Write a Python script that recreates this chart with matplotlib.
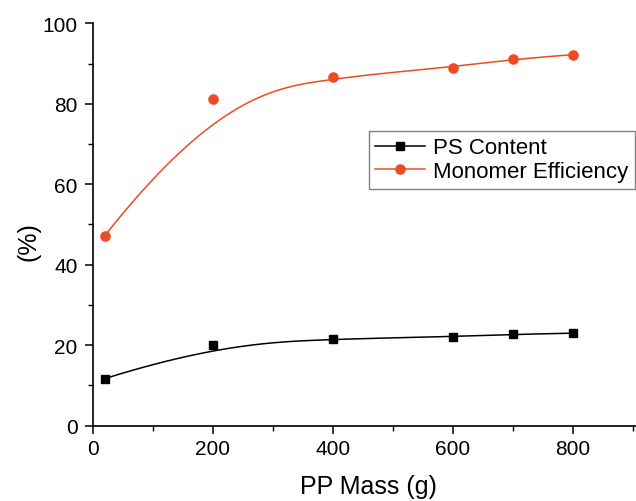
import numpy as np
import matplotlib
matplotlib.use("Agg")
import matplotlib.pyplot as plt
from matplotlib.ticker import MultipleLocator

plt.rcParams['font.family'] = ['Liberation Sans', 'DejaVu Sans']

pp_mass = [20, 200, 400, 600, 700, 800]
ps_content = [11.7, 20.1, 21.6, 22.1, 22.7, 23.0]
monomer_eff = [47.2, 81.2, 86.7, 89.0, 91.1, 92.2]
x_ticks = [0, 200, 400, 600, 800]
y_ticks = [0, 20, 40, 60, 80, 100]

RED = "#EE4B24"


def bspline(xs, ys, degree=3, n=600):
    """Clamped uniform B-spline using the data points as control points
    (like Origin's 'B-Spline' connect-line)."""
    P = np.column_stack([xs, ys]).astype(float)
    m = len(P)
    inner = np.linspace(0, 1, m - degree + 1)
    knots = np.concatenate([np.zeros(degree), inner, np.ones(degree)])
    u = np.linspace(0, 1, n)
    u[-1] = 1 - 1e-12

    def N(i, k, t):
        if k == 0:
            return np.where((knots[i] <= t) & (t < knots[i + 1]), 1.0, 0.0)
        d1 = knots[i + k] - knots[i]
        d2 = knots[i + k + 1] - knots[i + 1]
        a = 0 if d1 == 0 else (t - knots[i]) / d1 * N(i, k - 1, t)
        b = 0 if d2 == 0 else (knots[i + k + 1] - t) / d2 * N(i + 1, k - 1, t)
        return a + b

    B = np.array([N(i, degree, u) for i in range(m)])
    C = B.T @ P
    return C[:, 0], C[:, 1]


fig = plt.figure(figsize=(6.36, 5.02), dpi=100)
ax = fig.add_axes([0.1458, 0.150, 0.8542, 0.8016])

for ys, col, mk, lab in [(ps_content, 'black', 's', 'PS Content'),
                         (monomer_eff, RED, 'o', 'Monomer Efficiency')]:
    ms = 6.6 if mk == 'o' else 6.2
    cx, cy = bspline(pp_mass, ys)
    ax.plot(cx, cy, color=col, lw=1.1)
    ax.plot(pp_mass, ys, linestyle='none', marker=mk, color=col, markersize=ms)
    ax.plot([], [], color=col, lw=1.1, marker=mk, markersize=ms, label=lab)

ax.set_xlim(0, 905.5)
ax.set_ylim(0, 100)
ax.set_xticks(x_ticks)
ax.set_yticks(y_ticks)
ax.xaxis.set_minor_locator(MultipleLocator(100))
ax.yaxis.set_minor_locator(MultipleLocator(10))

for s in ['top', 'right']:
    ax.spines[s].set_visible(False)
for s in ['left', 'bottom']:
    ax.spines[s].set_linewidth(1.2)

ax.tick_params(axis='both', which='major', direction='out', length=5.8,
               width=1.1, labelsize=15, pad=3.5)
ax.tick_params(axis='both', which='minor', direction='out', length=3.6,
               width=1.0)
ax.tick_params(axis='y', which='major', pad=5)

ax.set_xlabel('PP Mass (g)', fontsize=18)
ax.xaxis.set_label_coords(0.507, -0.121)
ax.set_ylabel('(%)', fontsize=18)
ax.yaxis.set_label_coords(-0.097, 0.459)

leg = ax.legend(loc='upper left', bbox_to_anchor=(0.508, 0.733),
                borderaxespad=0, fontsize=16, fancybox=False,
                edgecolor='#808080', framealpha=1, handlelength=2.25,
                handletextpad=0.36, labelspacing=0.12, borderpad=0.3,
                numpoints=1)
leg.get_frame().set_linewidth(1.0)

fig.savefig('out.png', dpi=100)
